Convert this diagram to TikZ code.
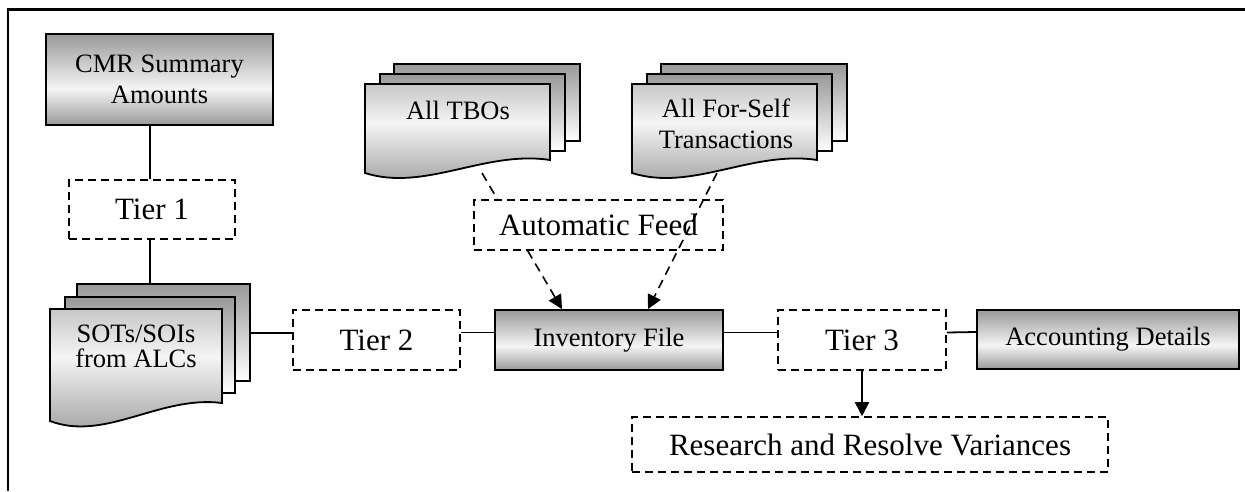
\documentclass[tikz,border=0pt]{standalone}
\usepackage{fontspec}
\setmainfont{Liberation Serif}
\usetikzlibrary{arrows.meta}
\definecolor{sdark}{gray}{0.60}
\definecolor{slight}{gray}{0.96}
\definecolor{smid}{gray}{0.78}
\pgfdeclareverticalshading{boxshade}{100bp}{color(0bp)=(sdark); color(25bp)=(sdark); color(45bp)=(slight); color(75bp)=(sdark); color(100bp)=(sdark)}
\pgfdeclareverticalshading{frontshade}{100bp}{color(0bp)=(sdark); color(25bp)=(sdark); color(57bp)=(slight); color(75bp)=(smid); color(100bp)=(smid)}
\pgfdeclareverticalshading{backshade}{100bp}{color(0bp)=(white); color(25bp)=(white); color(75bp)=(sdark); color(100bp)=(sdark)}
\newcommand\smallfnt{\fontsize{26.5}{30.5}\selectfont}
\newcommand\bigfnt{\fontsize{31}{36}\selectfont}
\tikzset{
 sbox/.style={draw=black, line width=1.8pt, shading=boxshade, inner sep=0pt, align=center, font=\smallfnt},
 dbox/.style={draw=black, line width=1.6pt, dash pattern=on 8pt off 5pt, fill=white, inner sep=0pt, align=center, font=\bigfnt},
 conn/.style={line width=1.8pt},
 dconn/.style={line width=1.6pt, dash pattern=on 9pt off 6pt, -{Triangle[length=14pt,width=14pt]}},
 aconn/.style={line width=1.8pt, -{Triangle[length=14pt,width=14pt]}},
 backsheet/.style={draw=black, line width=1.8pt, shading=backshade},
 frontsheet/.style={draw=black, line width=1.8pt, shading=frontshade},
 doctext/.style={inner sep=0pt, align=center, font=\smallfnt},
}
\begin{document}
\begin{tikzpicture}[x=1pt, y=-1pt]
\useasboundingbox (0,0) rectangle (1245,491);
% outer frame (top and left visible)
\draw[line width=2.4pt] (1245,9.5) -- (8,9.5) -- (8,491);

% ---- SOTs/SOIs stack ----
\draw[backsheet] (77,284) rectangle (250,381);
\draw[backsheet] (65,297) rectangle (235,393);
\draw[frontsheet] (50,309) -- (222,309) -- (222,403) .. controls (160,395) and (105,442) .. (50,421) -- cycle;
\node[doctext, font=\fontsize{26.5}{25}\selectfont] (sots) at (136,346) {SOTs/SOIs\\from ALCs};
\coordinate (sotstop) at (150,284);
\coordinate (sotsright) at (250,333);

% ---- All TBOs stack ----
\draw[backsheet] (394,64) rectangle (580,141);
\draw[backsheet] (380,74) rectangle (565,151);
\draw[frontsheet] (365,84) -- (550,84) -- (550,160) .. controls (485,150) and (425,192) .. (365,173) -- cycle;
\node[doctext] (tbo) at (458,110) {All TBOs};
\coordinate (tboout) at (482,173);

% ---- All For-Self stack ----
\draw[backsheet] (661,64) rectangle (847,141);
\draw[backsheet] (647,74) rectangle (832,151);
\draw[frontsheet] (632,84) -- (817,84) -- (817,160) .. controls (752,150) and (692,192) .. (632,173) -- cycle;
\node[doctext] (self) at (726,124) {All For-Self\\Transactions};
\coordinate (selfout) at (717,173);

% ---- boxes ----
\node[sbox, minimum width=227pt, minimum height=91pt] (cmr) at (159.5,79.5) {CMR Summary\\Amounts};
\node[dbox, minimum width=166pt, minimum height=59pt] (t1) at (152,209.5) {Tier 1};
\node[dbox, minimum width=167pt, minimum height=60pt] (t2) at (376.5,340) {Tier 2};
\node[sbox, minimum width=228pt, minimum height=60pt] (inv) at (609,340) {Inventory File};
\node[dbox, minimum width=168pt, minimum height=60pt] (t3) at (862,340) {Tier 3};
\node[sbox, minimum width=262pt, minimum height=59pt] (acc) at (1108,339.5) {Accounting Details};
\node[dbox, minimum width=476pt, minimum height=55pt] (res) at (870,444.5) {Research and Resolve Variances};

% ---- connectors ----
\coordinate (xa) at (150,0);
\draw[conn] (cmr.south -| xa) -- (t1.north -| xa);
\draw[conn] (t1.south -| xa) -- (sotstop);
\draw[conn] (sotsright) -- (sotsright -| t2.west);
\draw[conn] ([yshift=7.5pt]t2.east) -- ([yshift=7.5pt]inv.west);
\draw[conn] ([yshift=7.5pt]inv.east) -- ([yshift=7.5pt]t3.west);
\draw[conn] ([yshift=7.5pt]t3.east) -- ([yshift=7.5pt]acc.west);
\draw[aconn] (t3.south) -- (t3.south |- res.north);

\draw[dconn] (tboout) -- ([xshift=-47pt]inv.north);
\node[dbox, minimum width=249pt, minimum height=50pt] (feed) at (598.5,225) {Automatic Feed};
\draw[dconn] (selfout) -- ([xshift=39pt]inv.north);
\end{tikzpicture}
\end{document}
